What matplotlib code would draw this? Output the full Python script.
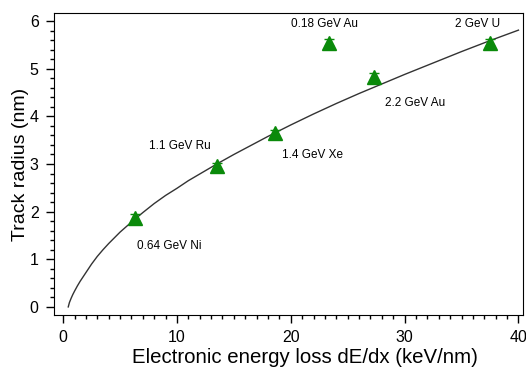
import numpy as np
import matplotlib
matplotlib.use("Agg")
import matplotlib.pyplot as plt
from matplotlib.ticker import MultipleLocator

plt.rcParams['font.family'] = ['Liberation Sans', 'DejaVu Sans']

# measured tracks
ions = ['0.64 GeV Ni', '1.1 GeV Ru', '1.4 GeV Xe', '0.18 GeV Au', '2.2 GeV Au', '2 GeV U']
dedx = [6.3, 13.5, 18.6, 23.4, 27.3, 37.5]
radius = [1.87, 2.95, 3.65, 5.55, 4.83, 5.55]
radius_err = [0.07, 0.07, 0.07, 0.07, 0.07, 0.07]

# label positions (x, y) for each ion
label_x = [9.3, 10.3, 21.9, 23.0, 30.9, 36.4]
label_y = [1.28, 3.38, 3.19, 5.93, 4.28, 5.93]

# fit curve
fit_x = [0.45, 0.55, 0.7, 0.85, 1.0, 1.25, 1.5, 1.75, 2.0, 2.5, 3.0, 3.5, 4.0, 4.5,
         5.0, 6.0, 7.0, 8.0, 9.0, 10, 11, 12, 13.5, 15, 16.5, 18, 20, 22, 24, 26,
         28, 30, 32.5, 35, 37.5, 40]
fit_y = [0.0, 0.09, 0.18, 0.26, 0.33, 0.44, 0.54, 0.63, 0.72, 0.90, 1.06, 1.20,
         1.33, 1.45, 1.57, 1.78, 1.98, 2.17, 2.34, 2.49, 2.65, 2.79, 3.00, 3.20,
         3.39, 3.58, 3.82, 4.05, 4.27, 4.48, 4.68, 4.88, 5.12, 5.36, 5.59, 5.81]

fig = plt.figure(figsize=(5.26, 3.70), dpi=100)
ax = fig.add_axes([0.1027, 0.1486, 0.8916, 0.8163])

ax.plot(fit_x, fit_y, color='#333333', lw=1.0, zorder=2)
ax.errorbar(dedx, radius, yerr=radius_err, fmt='^', color='#0a8a0a',
            ms=10, capsize=3.5, elinewidth=1, zorder=3)

for name, tx, ty in zip(ions, label_x, label_y):
    ax.text(tx, ty, name, fontsize=8.5, ha='center', va='center')

ax.set_xlim(-0.8, 40.4)
ax.set_ylim(-0.17, 6.17)
ax.xaxis.set_major_locator(MultipleLocator(10))
ax.xaxis.set_minor_locator(MultipleLocator(1))
ax.yaxis.set_major_locator(MultipleLocator(1))
ax.yaxis.set_minor_locator(MultipleLocator(0.2))
ax.tick_params(which='major', direction='out', length=6, width=1, labelsize=11.5, pad=5)
ax.tick_params(which='minor', direction='out', length=3, width=1)

ax.set_xlabel('Electronic energy loss dE/dx (keV/nm)', fontsize=14.7)
ax.xaxis.set_label_coords(0.535, -0.142)
ax.xaxis.label.set_va('center')
ax.set_ylabel('Track radius (nm)', fontsize=14)
ax.yaxis.set_label_coords(-0.0725, 0.5)
ax.yaxis.label.set_va('center')

fig.savefig('out.png', dpi=100)
